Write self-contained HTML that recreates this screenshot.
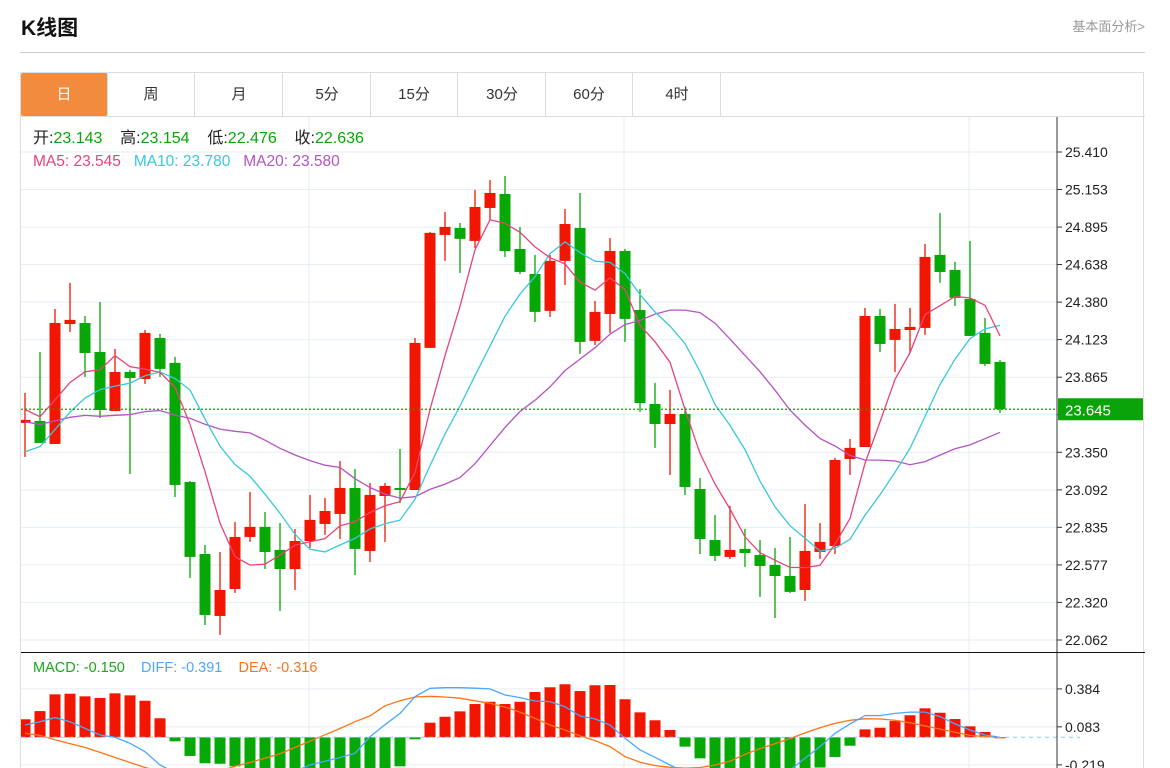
<!DOCTYPE html>
<html><head><meta charset="utf-8">
<style>
body{margin:0;background:#fff;font-family:"Liberation Sans","Noto Sans CJK SC",sans-serif;}
#wrap{position:relative;width:1170px;height:768px;overflow:hidden;}
.title{position:absolute;left:21px;top:12px;font-size:21px;font-weight:bold;color:#111;}
.more{position:absolute;right:25px;top:16px;font-size:13px;color:#999;}
.hr{position:absolute;left:20px;top:52px;width:1125px;height:1px;background:#d0d0d0;}
.box{position:absolute;left:20px;top:72px;width:1124px;height:700px;border:1px solid #ddd;box-sizing:border-box;}
.tabs{position:absolute;left:21px;top:73px;height:43px;}
.tab{position:absolute;top:0;width:87px;height:43px;border-right:1px solid #ddd;text-align:center;line-height:43px;font-size:15px;color:#333;box-sizing:border-box;}
.tab.on{background:#F38B3F;color:#fff;border-radius:2px;}
svg{position:absolute;left:0;top:0;}
svg text{white-space:pre;}
</style></head><body>
<div id="wrap">
<div class="title">K线图</div>
<div class="more">基本面分析&gt;</div>
<div class="hr"></div>
<div class="box"></div>
<div class="tabs">
<div class="tab on" style="left:0">日</div>
<div class="tab" style="left:87px">周</div>
<div class="tab" style="left:175px">月</div>
<div class="tab" style="left:263px">5分</div>
<div class="tab" style="left:350px">15分</div>
<div class="tab" style="left:438px">30分</div>
<div class="tab" style="left:525px">60分</div>
<div class="tab" style="left:613px">4时</div>
</div>
<svg id="chart" width="1170" height="768"></svg>
</div>
<script>
const opens=[23.551,23.565,23.407,24.230,24.237,24.038,23.633,23.901,23.853,24.134,23.963,23.146,22.652,22.227,22.412,22.769,22.838,22.680,22.549,22.741,22.858,22.927,23.105,22.673,23.050,23.105,23.091,24.066,24.841,24.889,24.800,25.026,25.122,24.745,24.573,24.320,24.663,24.889,24.114,24.299,24.731,24.326,23.681,23.544,23.613,23.098,22.748,22.632,22.687,22.645,22.577,22.501,22.405,22.666,22.707,23.304,23.386,24.285,24.121,24.189,24.203,24.704,24.601,24.402,24.169,23.970];
const highs=[23.757,24.038,24.333,24.512,24.285,24.381,24.059,23.915,24.189,24.162,24.004,23.153,22.714,22.666,22.872,23.078,22.940,22.865,22.824,23.057,23.037,23.290,23.235,23.139,23.139,23.373,24.134,24.862,24.999,24.923,25.150,25.218,25.246,24.896,24.704,24.704,25.019,25.129,24.388,24.820,24.745,24.470,23.826,23.778,23.661,23.174,22.920,22.982,22.824,22.748,22.693,22.769,22.995,22.865,23.311,23.441,24.340,24.333,24.368,24.340,24.779,24.992,24.656,24.800,24.272,23.984];
const lows=[23.318,23.414,23.407,24.175,23.867,23.585,23.633,23.201,23.819,23.867,23.043,22.488,22.165,22.097,22.385,22.735,22.549,22.261,22.405,22.693,22.783,22.755,22.508,22.597,22.735,23.002,23.091,24.066,24.663,24.580,24.752,24.944,24.690,24.573,24.244,24.278,24.498,24.025,24.086,24.169,24.107,23.627,23.380,23.194,23.057,22.652,22.604,22.618,22.563,22.357,22.213,22.385,22.330,22.618,22.652,23.194,23.386,24.038,23.901,24.031,24.155,24.512,24.354,24.148,23.942,23.620];
const closes=[23.572,23.414,24.237,24.258,24.031,23.640,23.901,23.860,24.169,23.922,23.126,22.632,22.234,22.405,22.769,22.838,22.666,22.549,22.741,22.886,22.947,23.105,22.687,23.057,23.119,23.091,24.100,24.855,24.896,24.814,25.033,25.129,24.731,24.587,24.313,24.663,24.916,24.107,24.313,24.731,24.265,23.688,23.544,23.613,23.112,22.755,22.639,22.680,22.659,22.570,22.501,22.392,22.673,22.735,23.297,23.380,24.285,24.093,24.196,24.210,24.690,24.587,24.409,24.148,23.956,23.645];
const priorCloses=[23.764,23.764,23.764,23.764,23.764,23.764,23.764,23.764,23.764,23.764,23.064,23.064,23.064,23.064,23.064,23.661,23.661,23.661,23.661];
const macdBars=[0.143,0.208,0.341,0.346,0.325,0.312,0.349,0.333,0.29,0.151,-0.032,-0.148,-0.206,-0.21,-0.23,-0.26,-0.28,-0.3,-0.31,-0.31,-0.3,-0.29,-0.28,-0.27,-0.26,-0.23,-0.016,0.116,0.163,0.206,0.264,0.282,0.264,0.282,0.36,0.397,0.421,0.367,0.413,0.415,0.302,0.198,0.135,0.058,-0.074,-0.167,-0.26,-0.3,-0.32,-0.33,-0.33,-0.31,-0.28,-0.24,-0.156,-0.067,0.063,0.076,0.129,0.175,0.23,0.195,0.145,0.087,0.042,0];
const diffLine=[0.098,0.124,0.156,0.124,0.071,0.018,0,-0.048,-0.114,-0.22,-0.28,-0.36,-0.44,-0.48,-0.48,-0.45,-0.4,-0.33,-0.27,-0.22,-0.19,-0.16,-0.127,0.005,0.1,0.19,0.322,0.389,0.394,0.394,0.39,0.384,0.336,0.315,0.288,0.283,0.243,0.169,0.146,0.098,-0.008,-0.1,-0.159,-0.22,-0.28,-0.35,-0.42,-0.46,-0.48,-0.44,-0.36,-0.26,-0.167,-0.074,0.032,0.106,0.172,0.172,0.19,0.2,0.2,0.164,0.106,0.058,0.018,0];
const deaLine=[0.032,0.015,-0.02,-0.05,-0.08,-0.12,-0.16,-0.2,-0.24,-0.27,-0.3,-0.31,-0.3,-0.27,-0.23,-0.2,-0.165,-0.13,-0.08,-0.03,0.02,0.07,0.124,0.17,0.25,0.29,0.32,0.325,0.32,0.31,0.29,0.27,0.24,0.2,0.15,0.098,0.058,0.011,-0.026,-0.074,-0.153,-0.198,-0.225,-0.238,-0.245,-0.24,-0.22,-0.19,-0.135,-0.09,-0.05,-0.01,0.035,0.075,0.11,0.135,0.148,0.145,0.135,0.115,0.09,0.065,0.04,0.015,0.005,0];
const priceTicks=[25.410,25.153,24.895,24.638,24.380,24.123,23.865,23.608,23.350,23.092,22.835,22.577,22.320,22.062];
const macdTicks=[0.384,0.083,-0.219];
const lastPrice=23.645;

const NS='http://www.w3.org/2000/svg';
const svgEl=document.getElementById('chart');
function mk(tag,attrs,parent){const e=document.createElementNS(NS,tag);for(const k in attrs)e.setAttribute(k,attrs[k]);(parent||svgEl).appendChild(e);return e;}
const L=21,R=1057,PT=117,PB=652,MB=768;
const xAt=i=>25+15*i;
const yP=p=>152+(25.410-p)*(488/3.348);
const yM=v=>737.3-v*126;
const RED='#F21600',GREEN='#05A805';

const defs=mk('defs',{});
const c1=mk('clipPath',{id:'cp1'},defs);mk('rect',{x:L,y:PT,width:R-L,height:PB-PT},c1);
const c2=mk('clipPath',{id:'cp2'},defs);mk('rect',{x:L,y:PB+1,width:R-L,height:MB-PB},c2);

priceTicks.forEach((t)=>{
 const g=mk('line',{x1:L,x2:R,y1:yP(t),y2:yP(t),stroke:'#e6eef4','stroke-width':1});
 
 
 if(Math.abs(t-lastPrice)>0.05){
 const tx=mk('text',{x:1065,y:yP(t)+5,'font-size':14,fill:'#222'});tx.textContent=t.toFixed(3);
 
 
 }
 mk('line',{x1:R,x2:R+5,y1:yP(t),y2:yP(t),stroke:'#333'});
});
[309,624,969].forEach(x=>{
 const v=mk('line',{x1:x,x2:x,y1:PT,y2:MB,stroke:'#e6eef4'});
 
 
});
macdTicks.forEach(t=>{
 const g=mk('line',{x1:L,x2:R,y1:yM(t),y2:yM(t),stroke:'#e6eef4'});
 
 
 mk('line',{x1:R,x2:R+5,y1:yM(t),y2:yM(t),stroke:'#333'});
 const tx=mk('text',{x:1065,y:yM(t)+5,'font-size':14,fill:'#222'});tx.textContent=t.toFixed(3);
 
 
});

const gC=mk('g',{'clip-path':'url(#cp1)'});
closes.forEach((c,i)=>{
 const o=opens[i],up=c>=o,col=up?RED:GREEN,x=xAt(i);
 const w=mk('line',{x1:x,x2:x,y1:yP(highs[i]),y2:yP(lows[i]),stroke:col,'stroke-width':1.3},gC);
 
 
 const t=Math.min(yP(o),yP(c)),h=Math.max(1.5,Math.abs(yP(o)-yP(c)));
 const b=mk('rect',{x:x-5.5,y:t,width:11,height:h,fill:col},gC);
 
 
});
const allCloses=priorCloses.concat(closes);
function ma(n){return closes.map((_,i)=>{let s=0;const j=i+priorCloses.length;for(let k=j-n+1;k<=j;k++)s+=allCloses[k];return s/n;});}
[[20,'#B553C4','ma20-line'],[10,'#38C7DD','ma10-line'],[5,'#E8437A','ma5-line']].forEach(([n,col,name])=>{
 const pts=ma(n).map((v,i)=>xAt(i)+','+yP(v).toFixed(1)).join(' ');
 const p=mk('polyline',{points:pts,fill:'none',stroke:col,'stroke-width':1.3},gC);
 
 
});
const lp=mk('line',{x1:L,x2:R,y1:yP(lastPrice),y2:yP(lastPrice),stroke:GREEN,'stroke-dasharray':'2,2','stroke-width':1.3});


const lr=mk('rect',{x:1058,y:yP(lastPrice)-11,width:85,height:22,fill:'#0AA40A'});


const lt=mk('text',{x:1065,y:yP(lastPrice)+6,'font-size':15,fill:'#fff'});lt.textContent=lastPrice.toFixed(3);



const gM=mk('g',{'clip-path':'url(#cp2)'});
const zl=mk('line',{x1:L,x2:1080,y1:yM(0),y2:yM(0),stroke:'#8fc8e8','stroke-dasharray':'4,4'});


macdBars.forEach((v,i)=>{
 const y0=yM(0),y1=yM(v);
 const r=mk('rect',{x:xAt(i)-5.5,y:Math.min(y0,y1),width:11,height:Math.max(1,Math.abs(y1-y0)),fill:v>=0?RED:GREEN},gM);
 
 
});
[[deaLine,'#FF7417','dea-line'],[diffLine,'#4DA6FF','diff-line']].forEach(([arr,col,name])=>{
 const p=mk('polyline',{points:arr.map((v,i)=>xAt(i)+','+yM(v).toFixed(1)).join(' '),fill:'none',stroke:col,'stroke-width':1.3},gM);
 
 
});

const ax=mk('line',{x1:R,x2:R,y1:PT,y2:MB,stroke:'#333'});


const sep=mk('line',{x1:L,x2:1145,y1:PB+0.5,y2:PB+0.5,stroke:'#111'});


const topBorder=mk('line',{x1:L,x2:1145,y1:116.5,y2:116.5,stroke:'#ddd'});



function legend(y,items,name,size){
 const t=mk('text',{x:33,y:y,'font-size':size});
 
 
 items.forEach(([s,c])=>{const ts=mk('tspan',{fill:c},t);ts.textContent=s;});
}
legend(143,[['开:','#222'],['23.143    ',GREEN],['高:','#222'],['23.154    ',GREEN],['低:','#222'],['22.476    ',GREEN],['收:','#222'],['22.636',GREEN]],'ohlc-legend',16);
legend(166,[['MA5: 23.545   ','#E8437A'],['MA10: 23.780   ','#38C7DD'],['MA20: 23.580','#B553C4']],'ma-legend',15.5);
legend(672,[['MACD: -0.150    ','#1aa81a'],['DIFF: -0.391    ','#4DA6FF'],['DEA: -0.316','#FF7417']],'macd-legend',14.5);
</script>
</body></html>
